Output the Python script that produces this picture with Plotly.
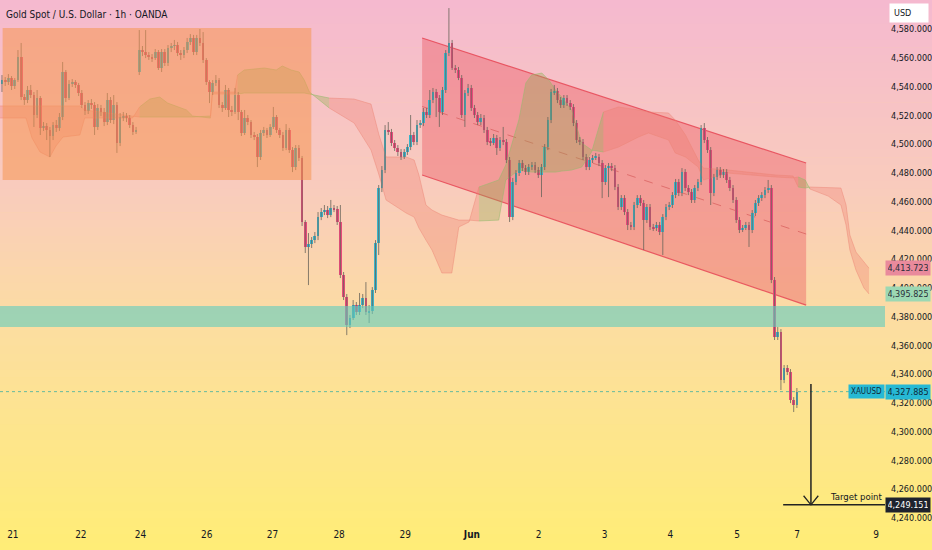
import plotly.graph_objects as go

# hourly candles, bar index 0..249
bar_open = [
    4541.9, 4544.6, 4543.3, 4546.0, 4540.5, 4544.6, 4560.6, 4532.8, 4530.7, 4537.7,
    4534.2, 4520.3, 4532.1, 4511.3, 4512.6, 4509.9, 4505.7, 4513.3, 4511.3, 4518.9,
    4550.2, 4532.1, 4541.9, 4543.3, 4541.2, 4535.6, 4527.3, 4523.1, 4528.6, 4527.3,
    4512.0, 4525.2, 4522.4, 4515.4, 4530.7, 4516.8, 4527.3, 4500.8, 4518.9, 4519.6,
    4518.2, 4513.3, 4508.5, 4550.2, 4565.5, 4564.1, 4562.0, 4560.6, 4559.9, 4564.1,
    4553.0, 4564.1, 4556.5, 4566.9, 4568.3, 4569.0, 4563.4, 4562.0, 4565.5, 4571.1,
    4573.9, 4564.1, 4573.9, 4570.4, 4558.6, 4543.3, 4536.3, 4542.6, 4544.6, 4527.3,
    4525.2, 4537.7, 4523.8, 4522.4, 4534.2, 4522.4, 4507.8, 4518.2, 4515.4, 4506.4,
    4505.0, 4491.1, 4507.8, 4509.9, 4506.4, 4512.0, 4518.9, 4509.9, 4506.4, 4497.3,
    4509.9, 4495.9, 4484.1, 4497.3, 4490.4, 4445.9, 4428.5, 4430.5, 4433.3, 4436.1,
    4449.3, 4452.8, 4454.2, 4450.7, 4455.6, 4454.9, 4445.9, 4409.0, 4393.7, 4374.2,
    4379.1, 4388.1, 4383.2, 4388.1, 4393.0, 4383.2, 4383.9, 4398.6, 4431.2, 4469.5,
    4482.0, 4509.9, 4508.5, 4500.8, 4497.3, 4494.6, 4491.1, 4494.6, 4498.0, 4506.4,
    4501.5, 4513.3, 4514.7, 4522.4, 4520.3, 4530.7, 4536.3, 4532.1, 4522.4, 4537.7,
    4563.4, 4570.4, 4553.0, 4551.6, 4546.0, 4520.3, 4535.6, 4539.1, 4525.2, 4520.3,
    4515.4, 4518.2, 4509.9, 4501.5, 4501.0, 4504.3, 4497.3, 4502.9, 4501.5, 4489.0,
    4449.3, 4473.7, 4479.9, 4486.9, 4483.4, 4480.6, 4484.1, 4485.5, 4482.0, 4478.6,
    4484.1, 4498.0, 4516.8, 4536.3, 4537.0, 4530.7, 4527.3, 4532.1, 4528.6, 4525.9,
    4514.7, 4502.9, 4501.5, 4491.1, 4484.1, 4489.0, 4490.4, 4491.1, 4486.9, 4473.7,
    4483.4, 4484.8, 4483.4, 4470.2, 4456.3, 4462.5, 4452.8, 4443.8, 4442.4, 4457.7,
    4462.5, 4459.1, 4447.2, 4456.3, 4442.4, 4441.7, 4443.8, 4438.9, 4449.3, 4456.3,
    4457.7, 4464.6, 4473.7, 4466.0, 4480.6, 4469.5, 4466.7, 4461.2, 4469.5, 4473.7,
    4511.3, 4502.9, 4495.9, 4466.0, 4477.2, 4482.0, 4478.6, 4480.6, 4475.1, 4469.5,
    4461.2, 4447.2, 4440.3, 4441.7, 4443.8, 4440.3, 4452.1, 4459.1, 4462.5, 4464.6,
    4468.1, 4469.5, 4405.5, 4365.9, 4369.3, 4335.9, 4344.3, 4341.5, 4322.0, 4318.5,
]
bar_high = [
    4548.1, 4546.7, 4548.8, 4547.4, 4546.0, 4565.5, 4570.4, 4534.9, 4540.5, 4541.2,
    4536.3, 4537.7, 4533.5, 4515.4, 4514.7, 4512.0, 4515.4, 4516.8, 4521.7, 4557.2,
    4551.6, 4544.6, 4545.3, 4544.6, 4542.6, 4537.7, 4529.3, 4530.7, 4531.4, 4529.3,
    4527.9, 4527.3, 4525.2, 4535.6, 4532.8, 4534.2, 4529.3, 4521.7, 4522.4, 4521.7,
    4520.3, 4515.4, 4512.0, 4579.4, 4568.3, 4579.4, 4564.1, 4562.7, 4566.2, 4565.5,
    4566.2, 4566.2, 4569.0, 4570.4, 4572.5, 4571.1, 4565.5, 4567.6, 4573.9, 4576.6,
    4576.0, 4576.0, 4580.1, 4578.0, 4559.9, 4544.6, 4544.6, 4548.1, 4546.0, 4529.3,
    4541.2, 4539.1, 4526.6, 4539.1, 4536.3, 4523.8, 4523.8, 4520.3, 4516.8, 4508.5,
    4507.1, 4509.9, 4512.0, 4511.3, 4514.0, 4525.9, 4520.3, 4511.3, 4508.5, 4514.0,
    4511.3, 4498.0, 4499.4, 4499.4, 4491.8, 4447.2, 4438.2, 4435.4, 4438.9, 4452.8,
    4455.6, 4457.7, 4457.0, 4461.2, 4457.7, 4457.0, 4457.7, 4411.1, 4395.8, 4381.2,
    4391.6, 4390.2, 4396.5, 4395.8, 4404.1, 4388.1, 4400.6, 4433.3, 4471.6, 4484.8,
    4513.3, 4515.4, 4510.6, 4502.9, 4499.4, 4496.6, 4496.6, 4500.1, 4520.3, 4508.5,
    4516.8, 4516.8, 4525.2, 4525.2, 4537.7, 4539.1, 4538.4, 4534.2, 4539.8, 4565.5,
    4594.7, 4572.5, 4555.1, 4553.7, 4548.1, 4537.7, 4541.9, 4541.2, 4527.3, 4522.4,
    4521.0, 4520.3, 4512.0, 4504.3, 4507.1, 4506.4, 4505.0, 4512.0, 4503.6, 4491.1,
    4476.5, 4482.0, 4489.0, 4489.0, 4485.5, 4486.2, 4487.6, 4487.6, 4484.1, 4486.2,
    4500.1, 4518.9, 4538.4, 4541.2, 4539.1, 4532.8, 4534.2, 4534.2, 4530.7, 4527.9,
    4516.8, 4505.0, 4503.6, 4493.2, 4491.1, 4492.5, 4493.9, 4493.2, 4489.0, 4485.5,
    4486.9, 4486.9, 4485.5, 4472.3, 4464.6, 4464.6, 4454.9, 4445.9, 4459.8, 4464.6,
    4464.6, 4461.2, 4458.4, 4458.4, 4444.5, 4445.9, 4445.9, 4451.4, 4458.4, 4459.8,
    4466.7, 4475.8, 4475.8, 4483.4, 4482.7, 4471.6, 4468.8, 4471.6, 4475.8, 4513.3,
    4514.7, 4505.0, 4498.0, 4479.3, 4484.1, 4484.1, 4482.7, 4482.7, 4477.2, 4471.6,
    4463.2, 4449.3, 4443.8, 4445.9, 4445.9, 4454.2, 4461.2, 4464.6, 4466.7, 4470.2,
    4475.1, 4471.6, 4407.6, 4372.8, 4371.4, 4346.4, 4346.4, 4343.6, 4324.1, 4330.4,
]
bar_low = [
    4536.3, 4540.5, 4541.2, 4537.7, 4538.4, 4543.3, 4530.7, 4527.3, 4528.6, 4532.1,
    4512.0, 4518.2, 4506.4, 4509.2, 4502.9, 4491.1, 4502.9, 4508.5, 4509.2, 4516.8,
    4529.3, 4530.7, 4539.8, 4539.1, 4533.5, 4525.2, 4520.3, 4521.0, 4524.5, 4506.4,
    4509.9, 4519.6, 4512.6, 4513.3, 4514.7, 4514.0, 4493.9, 4498.7, 4516.1, 4515.4,
    4511.3, 4506.4, 4507.1, 4548.1, 4561.3, 4559.9, 4558.6, 4557.2, 4558.6, 4551.6,
    4550.2, 4554.4, 4554.4, 4564.1, 4565.5, 4561.3, 4558.6, 4559.9, 4563.4, 4569.0,
    4562.0, 4562.0, 4568.3, 4556.5, 4541.2, 4528.6, 4534.2, 4540.5, 4525.2, 4522.4,
    4523.8, 4518.9, 4519.6, 4521.0, 4516.8, 4505.7, 4506.4, 4513.3, 4504.3, 4502.9,
    4484.1, 4489.0, 4505.7, 4504.3, 4505.0, 4510.6, 4507.8, 4504.3, 4495.3, 4495.9,
    4493.9, 4480.6, 4482.0, 4488.3, 4443.1, 4424.3, 4402.0, 4427.8, 4431.2, 4433.3,
    4447.2, 4450.7, 4448.6, 4449.3, 4452.8, 4443.8, 4406.9, 4391.6, 4367.2, 4372.1,
    4377.7, 4381.2, 4381.2, 4386.0, 4381.2, 4375.6, 4381.9, 4396.5, 4422.9, 4466.7,
    4479.9, 4506.4, 4498.7, 4495.3, 4491.8, 4489.0, 4489.7, 4492.5, 4495.9, 4499.4,
    4499.4, 4511.3, 4512.6, 4518.2, 4518.2, 4528.6, 4518.9, 4512.0, 4520.3, 4535.6,
    4561.3, 4551.6, 4549.5, 4544.6, 4518.2, 4512.0, 4533.5, 4523.1, 4518.2, 4513.3,
    4513.3, 4507.8, 4499.4, 4498.7, 4499.4, 4492.5, 4495.3, 4499.4, 4486.9, 4445.9,
    4447.2, 4471.6, 4477.9, 4481.3, 4478.6, 4478.6, 4482.0, 4479.9, 4476.5, 4463.2,
    4482.0, 4495.9, 4514.7, 4534.2, 4528.6, 4525.2, 4525.2, 4526.6, 4523.8, 4512.6,
    4500.8, 4499.4, 4489.0, 4482.0, 4482.0, 4486.9, 4489.0, 4484.8, 4462.5, 4471.6,
    4463.2, 4481.3, 4468.1, 4454.2, 4454.2, 4450.7, 4440.3, 4440.3, 4440.3, 4455.6,
    4457.0, 4426.4, 4445.2, 4440.3, 4439.6, 4439.6, 4436.8, 4422.9, 4447.2, 4454.2,
    4455.6, 4462.5, 4463.9, 4463.9, 4467.4, 4464.6, 4459.1, 4459.1, 4467.4, 4471.6,
    4500.8, 4493.9, 4457.7, 4463.9, 4475.1, 4476.5, 4476.5, 4473.0, 4467.4, 4459.1,
    4445.2, 4438.2, 4438.9, 4440.3, 4428.5, 4438.2, 4450.0, 4457.0, 4460.5, 4462.5,
    4466.0, 4403.4, 4363.8, 4363.8, 4329.0, 4333.8, 4339.4, 4319.9, 4313.7, 4316.5,
]
bar_close = [
    4544.6, 4543.3, 4546.0, 4540.5, 4544.6, 4560.6, 4532.8, 4530.7, 4537.7, 4534.2,
    4520.3, 4532.1, 4511.3, 4512.6, 4509.9, 4505.7, 4513.3, 4511.3, 4518.9, 4550.2,
    4532.1, 4541.9, 4543.3, 4541.2, 4535.6, 4527.3, 4523.1, 4528.6, 4527.3, 4512.0,
    4525.2, 4522.4, 4515.4, 4530.7, 4516.8, 4527.3, 4500.8, 4518.9, 4519.6, 4518.2,
    4513.3, 4508.5, 4509.2, 4565.5, 4564.1, 4562.0, 4560.6, 4559.9, 4564.1, 4553.0,
    4564.1, 4556.5, 4566.9, 4568.3, 4569.0, 4563.4, 4562.0, 4565.5, 4571.1, 4573.9,
    4564.1, 4573.9, 4570.4, 4558.6, 4543.3, 4536.3, 4542.6, 4544.6, 4527.3, 4525.2,
    4537.7, 4523.8, 4522.4, 4534.2, 4522.4, 4507.8, 4518.2, 4515.4, 4506.4, 4505.0,
    4491.1, 4507.8, 4509.9, 4506.4, 4512.0, 4518.9, 4509.9, 4506.4, 4497.3, 4509.9,
    4495.9, 4484.1, 4497.3, 4490.4, 4445.9, 4428.5, 4430.5, 4433.3, 4436.1, 4449.3,
    4452.8, 4454.2, 4450.7, 4455.6, 4454.9, 4445.9, 4409.0, 4393.7, 4374.2, 4379.1,
    4388.1, 4383.2, 4388.1, 4393.0, 4383.2, 4383.9, 4398.6, 4431.2, 4469.5, 4482.0,
    4509.9, 4508.5, 4500.8, 4497.3, 4494.6, 4491.1, 4494.6, 4498.0, 4506.4, 4501.5,
    4513.3, 4514.7, 4522.4, 4520.3, 4530.7, 4536.3, 4532.1, 4522.4, 4537.7, 4563.4,
    4570.4, 4553.0, 4551.6, 4546.0, 4520.3, 4535.6, 4539.1, 4525.2, 4520.3, 4515.4,
    4518.2, 4509.9, 4501.5, 4501.0, 4504.3, 4497.3, 4502.9, 4501.5, 4489.0, 4449.3,
    4473.7, 4479.9, 4486.9, 4483.4, 4480.6, 4484.1, 4485.5, 4482.0, 4478.6, 4484.1,
    4498.0, 4516.8, 4536.3, 4537.0, 4530.7, 4527.3, 4532.1, 4528.6, 4525.9, 4514.7,
    4502.9, 4501.5, 4491.1, 4484.1, 4489.0, 4490.4, 4491.1, 4486.9, 4473.7, 4483.4,
    4484.8, 4483.4, 4470.2, 4456.3, 4462.5, 4452.8, 4443.8, 4442.4, 4457.7, 4462.5,
    4459.1, 4447.2, 4456.3, 4442.4, 4441.7, 4443.8, 4438.9, 4449.3, 4456.3, 4457.7,
    4464.6, 4473.7, 4466.0, 4480.6, 4469.5, 4466.7, 4461.2, 4469.5, 4473.7, 4511.3,
    4502.9, 4495.9, 4466.0, 4477.2, 4482.0, 4478.6, 4480.6, 4475.1, 4469.5, 4461.2,
    4447.2, 4440.3, 4441.7, 4443.8, 4440.3, 4452.1, 4459.1, 4462.5, 4464.6, 4468.1,
    4469.5, 4405.5, 4365.9, 4369.3, 4335.9, 4344.3, 4341.5, 4322.0, 4318.5, 4327.885,
]

# day labels on the time axis (bar positions)
day_ticks = [3.4, 24.7, 43.4, 64.1, 84.7, 105.6, 126.3, 147.2, 168.1, 188.8, 209.4, 230.3, 249.1, 273.8]
day_labels = ["21", "22", "24", "26", "27", "28", "29", "<b>Jun</b>", "2", "3", "4", "5", "7", "9"]

# ichimoku cloud (span A / span B), shifted forward
cloud_x = [-0.6, 7.5, 9.4, 11.9, 15.0, 16.9, 19.1, 24.4, 25.9, 40.9,
           43.1, 46.3, 49.4, 51.9, 57.8, 59.7, 65.3, 65.9, 72.8, 73.8,
           75.9, 82.2, 85.9, 87.8, 90.6, 93.1, 94.7, 96.3, 102.5, 110.3,
           115.6, 118.1, 120.3, 126.6, 129.1, 130.6, 132.8, 134.7, 137.8, 140.9,
           143.1, 146.3, 149.4, 155.6, 157.8, 161.9, 164.1, 165.9, 169.1, 171.3,
           173.4, 175.3, 178.4, 181.6, 184.7, 188.4, 193.1, 199.4, 202.5, 208.8,
           210.9, 214.1, 218.1, 219.7, 227.5, 242.2, 247.8, 249.4, 251.6, 253.1,
           258.8, 262.8, 264.4, 265.6, 267.5, 270.0, 271.6]
span_a = [4518.2, 4518.2, 4504.3, 4494.6, 4491.1, 4498.7, 4505.0, 4506.4, 4518.2, 4518.2,
          4525.9, 4531.4, 4532.8, 4528.6, 4523.8, 4519.6, 4518.2, 4534.9, 4534.9, 4548.1,
          4551.6, 4553.0, 4551.6, 4554.4, 4551.6, 4550.2, 4544.6, 4536.3, 4525.2, 4514.7,
          4495.9, 4478.6, 4461.2, 4452.1, 4449.3, 4441.7, 4433.3, 4426.4, 4410.4, 4410.4,
          4442.4, 4445.9, 4470.2, 4475.1, 4485.5, 4516.8, 4542.6, 4548.1, 4549.5, 4544.6,
          4537.7, 4532.8, 4523.8, 4500.8, 4495.9, 4494.6, 4498.0, 4505.0, 4507.8, 4502.9,
          4493.9, 4491.1, 4484.1, 4475.1, 4479.9, 4477.2, 4476.5, 4477.2, 4475.1, 4468.8,
          4463.9, 4457.7, 4443.8, 4426.4, 4412.5, 4400.0, 4395.825]
span_b = [4526.6, 4526.6, 4526.6, 4526.6, 4526.6, 4526.6, 4526.6, 4526.6, 4523.8, 4519.6,
          4518.9, 4518.9, 4518.9, 4518.9, 4518.9, 4518.9, 4519.6, 4536.3, 4536.3, 4534.9,
          4535.6, 4535.6, 4535.6, 4535.6, 4535.6, 4535.6, 4535.6, 4534.9, 4532.1, 4531.4,
          4527.9, 4506.4, 4491.1, 4491.1, 4489.0, 4478.6, 4457.7, 4454.2, 4450.7, 4448.6,
          4447.2, 4447.2, 4446.6, 4447.2, 4475.1, 4482.0, 4481.3, 4480.6, 4480.6, 4480.6,
          4480.6, 4481.3, 4482.0, 4484.1, 4494.6, 4522.4, 4525.9, 4523.8, 4522.4, 4521.7,
          4516.8, 4506.4, 4489.0, 4483.4, 4482.0, 4478.6, 4477.9, 4470.2, 4469.5, 4470.2,
          4469.5, 4469.5, 4457.7, 4436.8, 4425.0, 4418.0, 4413.723]

# drawings
box_x = [0.2, 96.9]
box_y = [4475.1, 4580.8]
chan_x = [131.6, 251.9]
chan_top = [4573.9, 4486.9]
chan_bot = [4478.6, 4388.1]
zone_y = [4372.9, 4387.5]
last_price = 4327.885
target_price = 4249.151
arrow_x = 253.4
arrow_from = 4333.2

X_RANGE = [-0.625, 276.6]
Y_RANGE = [4237.2, 4600.3]
INK = "#131722"
FONT = "DejaVu Sans Condensed, Liberation Sans Narrow, sans-serif"
UP = "#3AB4CA"
DOWN = "#E84A7A"

fig = go.Figure()

# --- background gradient (pink -> peach -> yellow), in paper coords over whole figure
stops = [(0.0, (245, 185, 207)), (0.35, (249, 204, 188)), (0.6, (252, 222, 160)), (1.0, (255, 237, 118))]

def grad_color(f):
    for (f0, c0), (f1, c1) in zip(stops[:-1], stops[1:]):
        if f <= f1:
            t = (f - f0) / (f1 - f0)
            return "rgb(%d,%d,%d)" % tuple(round(a + (b - a) * t) for a, b in zip(c0, c1))
    return "rgb(%d,%d,%d)" % stops[-1][1]

N = 70
fig_h, plot_h = 550, 522
for k in range(N):
    y0px = k * fig_h / N
    y1px = (k + 1) * fig_h / N + 0.6
    fig.add_shape(type="rect", xref="paper", yref="paper", x0=-0.01, x1=1.06,
                  y0=1 - y1px / plot_h, y1=1 - y0px / plot_h,
                  fillcolor=grad_color((k + 0.5) / N), line_width=0, layer="below")

# --- descending channel
fig.add_shape(type="path", layer="below",
              path="M %s,%s L %s,%s L %s,%s L %s,%s Z" % (chan_x[0], chan_top[0], chan_x[1], chan_top[1],
                                                        chan_x[1], chan_bot[1], chan_x[0], chan_bot[0]),
              fillcolor="rgba(235,80,90,0.38)", line=dict(width=0))
for ys in (chan_top, chan_bot):
    fig.add_shape(type="line", x0=chan_x[0], x1=chan_x[1], y0=ys[0], y1=ys[1],
                  line=dict(color="rgba(230,70,85,0.85)", width=1.2), layer="below")
fig.add_shape(type="line", x0=chan_x[0], x1=chan_x[1],
              y0=(chan_top[0] + chan_bot[0]) / 2, y1=(chan_top[1] + chan_bot[1]) / 2,
              line=dict(color="rgba(210,80,80,0.6)", width=1, dash="dash"), layer="below")

# --- ichimoku cloud, filled run by run (bull olive / bear red)
runs = []
cur = []
prev = None
for i in range(len(cloud_x)):
    bull = span_a[i] >= span_b[i]
    if prev is not None and bull != prev:
        cur.append(i)
        runs.append((prev, cur))
        cur = []
    cur.append(i)
    prev = bull
runs.append((prev, cur))

for bull, idx in runs:
    xs = [cloud_x[i] for i in idx]
    fill = "rgba(150,170,80,0.35)" if bull else "rgba(238,120,105,0.30)"
    edge = "rgba(150,185,110,0.55)" if bull else "rgba(235,130,115,0.45)"
    fig.add_trace(go.Scatter(x=xs, y=[span_a[i] for i in idx], mode="lines",
                             line=dict(color=edge, width=1), hoverinfo="skip", showlegend=False))
    fig.add_trace(go.Scatter(x=xs, y=[span_b[i] for i in idx], mode="lines",
                             line=dict(color=edge, width=1), fill="tonexty", fillcolor=fill,
                             hoverinfo="skip", showlegend=False))

# --- candles: grey wicks, then bodies as floating bars
bars = list(range(len(bar_close)))
wx, wy = [], []
for i in bars:
    wx += [i, i, None]
    wy += [bar_low[i], bar_high[i], None]
fig.add_trace(go.Scatter(x=wx, y=wy, mode="lines", line=dict(color="rgba(105,100,90,0.8)", width=1),
                         hoverinfo="skip", showlegend=False))
body_base = [min(o, c) for o, c in zip(bar_open, bar_close)]
body_len = [max(abs(c - o), 0.7) for o, c in zip(bar_open, bar_close)]
body_col = [UP if c >= o else DOWN for o, c in zip(bar_open, bar_close)]
fig.add_trace(go.Bar(x=bars, y=body_len, base=body_base, width=0.86,
                     marker=dict(color=body_col, line=dict(width=0)),
                     hoverinfo="skip", showlegend=False))

# --- overlays above candles
fig.add_shape(type="rect", x0=box_x[0], x1=box_x[1], y0=box_y[0], y1=box_y[1],
              fillcolor="rgba(245,150,80,0.55)", line_width=0, layer="above")
fig.add_shape(type="rect", xref="x", x0=X_RANGE[0], x1=X_RANGE[1], y0=zone_y[0], y1=zone_y[1],
              fillcolor="rgba(100,205,190,0.62)", line_width=0, layer="above")
fig.add_shape(type="line", xref="paper", x0=0, x1=1, y0=last_price, y1=last_price,
              line=dict(color="rgba(40,170,160,0.7)", width=1, dash="dot"))

# target arrow
fig.add_shape(type="line", x0=arrow_x, x1=arrow_x, y0=arrow_from, y1=target_price,
              line=dict(color="#222222", width=1.5))
fig.add_shape(type="path", path="M %s,%s L %s,%s L %s,%s" % (arrow_x - 2.3, target_price + 6.3,
                                                            arrow_x, target_price,
                                                            arrow_x + 2.3, target_price + 6.3),
              line=dict(color="#222222", width=1.3))
fig.add_shape(type="line", x0=244.7, x1=X_RANGE[1], y0=target_price, y1=target_price,
              line=dict(color="#222222", width=1.5))

annotations = [
    dict(text="Gold Spot / U.S. Dollar · 1h · OANDA", xref="paper", yref="paper", x=0, y=1,
         xanchor="left", yanchor="top", xshift=4, yshift=-7, showarrow=False,
         font=dict(size=10, color=INK, family=FONT)),
    dict(text="USD", xref="paper", yref="paper", x=1, y=1, xanchor="left", yanchor="top",
         xshift=4, yshift=-3, showarrow=False, bgcolor="white", borderpad=4, width=30, align="left",
         font=dict(size=9, color=INK, family=FONT)),
    dict(text="Target point", x=258.6, y=4255.0, xanchor="left", yanchor="middle", showarrow=False,
         font=dict(size=9.5, color=INK, family=FONT)),
    dict(text="XAUUSD", xref="paper", x=1, y=last_price, xanchor="right", yanchor="middle",
         showarrow=False, bgcolor="#26B9D4", borderpad=2, width=31,
         font=dict(size=8, color="#0F2A3A", family=FONT)),
]
for price, bg, fg in [(4413.723, "#E98A9C", "#2A2E39"), (4395.825, "#9CD8B3", "#2A2E39"),
                      (last_price, "#26B9D4", "#0F2A3A"), (target_price, "#1E222D", "#FFFFFF")]:
    annotations.append(dict(text="{:,.3f}".format(price), xref="paper", x=1, y=price,
                            xanchor="left", yanchor="middle", showarrow=False, bgcolor=bg,
                            borderpad=2, width=40, font=dict(size=9, color=fg, family=FONT)))

fig.update_layout(
    width=932, height=550,
    margin=dict(l=0, r=45, t=0, b=28),
    paper_bgcolor="rgb(253,230,140)", plot_bgcolor="rgba(0,0,0,0)",
    font=dict(family=FONT, color=INK),
    annotations=annotations,
    showlegend=False,
    hovermode=False,
    bargap=0,
)
fig.update_xaxes(range=X_RANGE, showgrid=False, zeroline=False,
                 tickmode="array", tickvals=day_ticks, ticktext=day_labels, ticks="",
                 ticklabelstandoff=5, tickfont=dict(size=10, color=INK, family=FONT))
fig.update_yaxes(range=Y_RANGE, side="right", showgrid=False, zeroline=False, tick0=4240, dtick=20,
                 tickformat=",.3f", ticks="", ticklabelstandoff=5,
                 tickfont=dict(size=9, color=INK, family=FONT))

# the page body has a default 8px margin; drop it so the chart fills the window
fig.write_html("out.html", config={"displayModeBar": False},
               post_script="document.body.style.margin='0px';")
